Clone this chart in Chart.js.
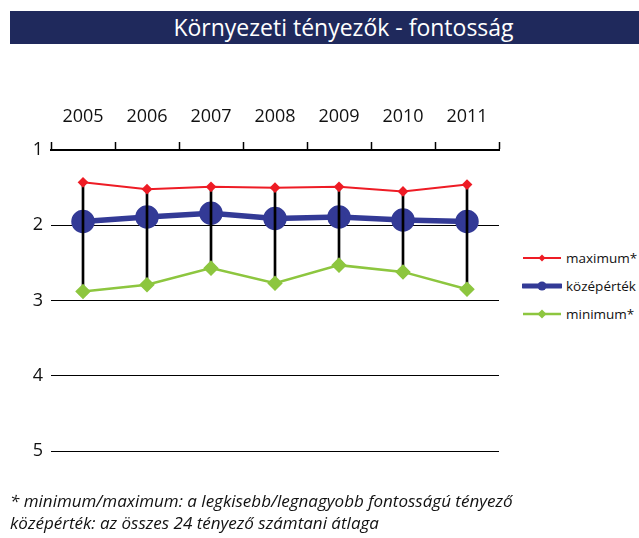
<!DOCTYPE html>
<html lang="hu">
  <head>
    <meta charset="UTF-8" />
    <title>Környezeti tényezők - fontosság</title>
    <script src="https://cdn.jsdelivr.net/npm/chart.js"></script>
    <style>
      body { margin: 0; background: #fff; font-family: 'Open Sans', sans-serif; }
      .page { position: relative; width: 639px; height: 538px; overflow: hidden; }
      .title {
        position: absolute; left: 10px; top: 11px; width: 629px; height: 33px;
        background: #1f295c; color: #fff; font-size: 23px; line-height: 33px;
        text-align: center; padding-left: 38px; box-sizing: border-box; white-space: nowrap;
      }
      #chart { position: absolute; left: 0; top: 0; }
      .legend { position: absolute; left: 522px; top: 244px; font-size: 13.5px; color: #111; }
      .legend div { height: 28px; display: flex; align-items: center; }
      .legend svg { margin-right: 4px; }
      .note {
        position: absolute; left: 10px; top: 490px; font-size: 17px; font-style: italic;
        line-height: 22px; color: #111; white-space: nowrap;
      }
    </style>
  </head>
  <body>
    <div class="page">
      <canvas id="chart" width="520" height="538"></canvas>
      <div class="title">Környezeti tényezők - fontosság</div>
      <div class="legend">
        <div><svg width="40" height="12"><line x1="1" y1="6" x2="39" y2="6" stroke="#ee1c25" stroke-width="2"/><polygon points="20,2.5 23.5,6 20,9.5 16.5,6" fill="#ee1c25"/></svg>maximum*</div>
        <div><svg width="40" height="12"><line x1="1" y1="6" x2="39" y2="6" stroke="#333a96" stroke-width="5" stroke-linecap="round"/><circle cx="20" cy="6" r="4.5" fill="#333a96"/></svg>középérték</div>
        <div><svg width="40" height="12"><line x1="1" y1="6" x2="39" y2="6" stroke="#8dc63f" stroke-width="2.5"/><polygon points="20,1.5 24.5,6 20,10.5 15.5,6" fill="#8dc63f"/></svg>minimum*</div>
      </div>
      <div class="note">* minimum/maximum: a legkisebb/legnagyobb fontosságú tényező<br />középérték: az összes 24 tényező számtani átlaga</div>
    </div>

    <script>
      const years = ['2005', '2006', '2007', '2008', '2009', '2010', '2011'];
      const maxValues = [1.43, 1.52, 1.49, 1.50, 1.49, 1.55, 1.46];
      const meanValues = [1.95, 1.89, 1.84, 1.91, 1.89, 1.93, 1.95];
      const minValues = [2.88, 2.79, 2.57, 2.77, 2.53, 2.62, 2.85];
      const yTicks = [1, 2, 3, 4, 5];

      // high-low lines as thin floating bars
      const ranges = years.map((y, i) => [minValues[i], maxValues[i]]);
      const font = { family: "'Open Sans', sans-serif", size: 18 };

      new Chart(document.getElementById('chart'), {
        type: 'line',
        data: {
          labels: years,
          datasets: [
            {
              type: 'bar', label: 'range', data: ranges, backgroundColor: '#000',
              barThickness: 2, order: 3
            },
            {
              label: 'maximum*', data: maxValues, borderColor: '#ee1c25', backgroundColor: '#ee1c25',
              borderWidth: 2, pointStyle: 'rectRot', pointRadius: 4, order: 2
            },
            {
              label: 'középérték', data: meanValues, borderColor: '#333a96', backgroundColor: '#333a96',
              borderWidth: 5.5, pointStyle: 'circle', pointRadius: 9, order: 4
            },
            {
              label: 'minimum*', data: minValues, borderColor: '#8dc63f', backgroundColor: '#8dc63f',
              borderWidth: 2.5, pointStyle: 'rectRot', pointRadius: 6, order: 1
            }
          ]
        },
        options: {
          responsive: false,
          animation: false,
          layout: { padding: { top: 0, right: 21, bottom: 87, left: 0 } },
          plugins: { legend: { display: false }, tooltip: { enabled: false } },
          scales: {
            x: {
              position: 'top',
              offset: true,
              grid: { offset: true, drawOnChartArea: false, drawTicks: true, tickLength: 8, color: '#000', tickWidth: 1.5 },
              border: { display: true, color: '#000', width: 2 },
              ticks: { color: '#111', font: font, padding: 14, maxRotation: 0 },
              afterFit: (s) => { s.height = 150; }
            },
            y: {
              reverse: true, min: 1, max: 5,
              afterBuildTicks: (s) => { s.ticks = yTicks.map(v => ({ value: v })); },
              grid: {
                drawTicks: false, lineWidth: 1,
                color: (c) => c.tick && c.tick.value === 1 ? 'rgba(0,0,0,0)' : '#000'
              },
              border: { display: false },
              ticks: { color: '#111', font: font, padding: 8 },
              afterFit: (s) => { s.width = 51; }
            }
          }
        }
      });
    </script>
  </body>
</html>
